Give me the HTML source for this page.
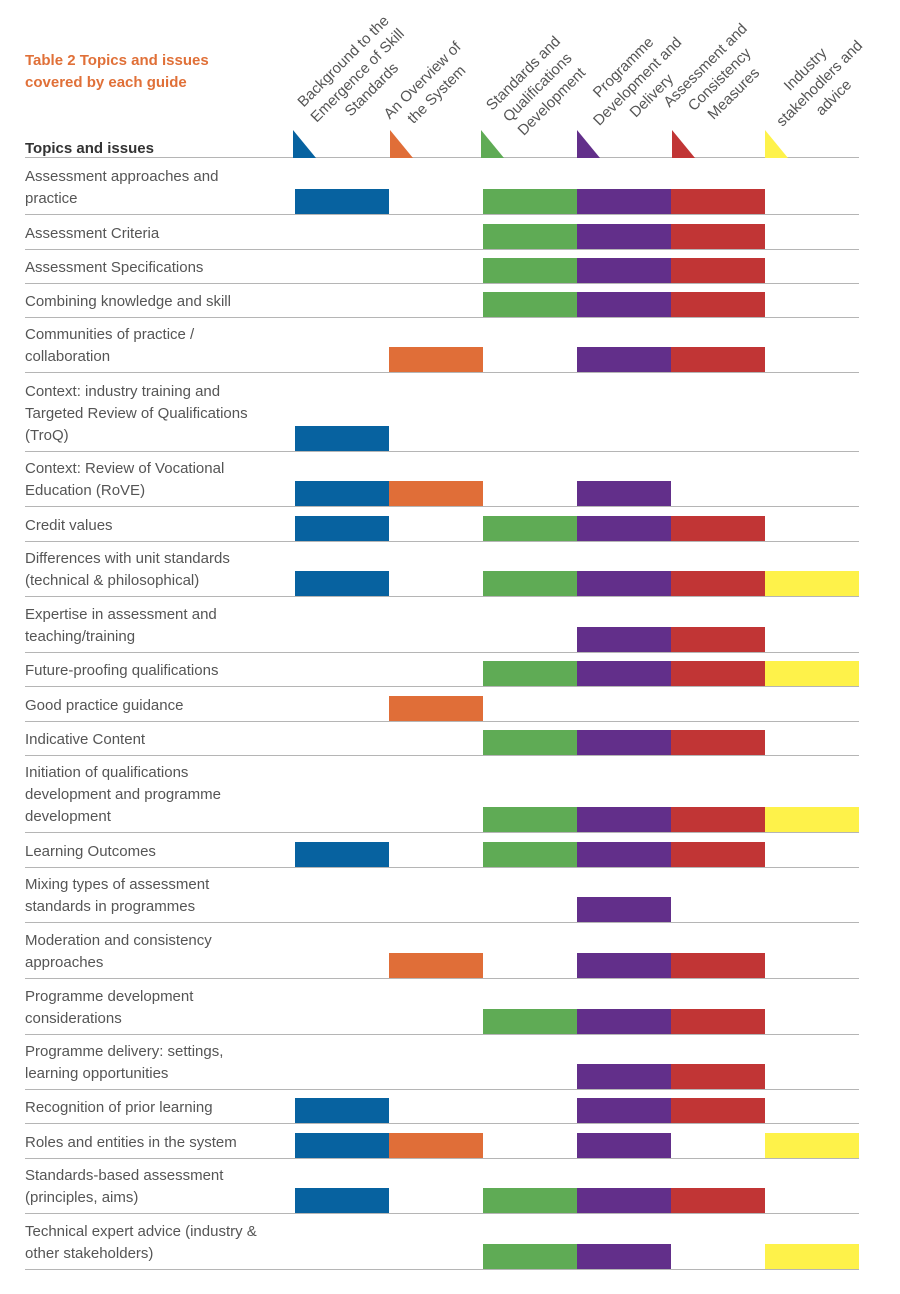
<!DOCTYPE html>
<html><head><meta charset="utf-8"><style>
body{margin:0;width:900px;height:1294px;background:#fff;position:relative;font-family:"Liberation Sans",sans-serif;overflow:hidden}
.t{position:absolute;left:25px;color:#555;font-size:15px;line-height:22px;width:270px}
.l{position:absolute;left:25px;width:834px;height:0;border-top:1.5px solid #b5b5b5}
.b{position:absolute;height:25px;width:94px}
.h{position:absolute;font-size:15px;line-height:20px;color:#555;text-align:center;white-space:nowrap;transform:translate(-50%,-50%) rotate(-45deg)}
.tri{position:absolute;top:130px;width:0;height:0;border-style:solid;border-width:28px 0 0 23px;border-color:transparent transparent transparent currentColor}
</style></head><body>
<div style="position:absolute;left:25px;top:50px;color:#e07038;font-weight:bold;font-size:15px;line-height:22px">Table 2 Topics and issues<br>covered by each guide</div>
<div style="position:absolute;left:25px;top:140px;color:#333;font-weight:bold;font-size:15px">Topics and issues</div>
<div class="l" style="top:157px"></div>
<div class="h" style="left:358px;top:76px">Background to the<br>Emergence of Skill<br>Standards</div>
<div class="h" style="left:430px;top:88px">An Overview of<br>the System</div>
<div class="h" style="left:538px;top:88px">Standards and<br>Qualifications<br>Development</div>
<div class="h" style="left:638px;top:82px">Programme<br>Development and<br>Delivery</div>
<div class="h" style="left:720px;top:80px">Assessment and<br>Consistency<br>Measures</div>
<div class="h" style="left:820px;top:84px">Industry<br>stakehodlers and<br>advice</div>
<div class="tri" style="left:293px;color:#0762a0"></div>
<div class="tri" style="left:390px;color:#e06e38"></div>
<div class="tri" style="left:481px;color:#5fab55"></div>
<div class="tri" style="left:577px;color:#622f8a"></div>
<div class="tri" style="left:672px;color:#c13535"></div>
<div class="tri" style="left:765px;color:#fef24a"></div>
<div id="rows"></div>
<script>
var C=["#0762a0","#e06e38","#5fab55","#622f8a","#c13535","#fef24a"],X=[295,389,483,577,671,765];
var R=[
[214,"Assessment approaches and<br>practice","101110"],
[249,"Assessment Criteria","001110"],
[283,"Assessment Specifications","001110"],
[317,"Combining knowledge and skill","001110"],
[372,"Communities of practice /<br>collaboration","010110"],
[451,"Context: industry training and<br>Targeted Review of Qualifications<br>(TroQ)","100000"],
[506,"Context: Review of Vocational<br>Education (RoVE)","110100"],
[541,"Credit values","101110"],
[596,"Differences with unit standards<br>(technical &amp; philosophical)","101111"],
[652,"Expertise in assessment and<br>teaching/training","000110"],
[686,"Future-proofing qualifications","001111"],
[721,"Good practice guidance","010000"],
[755,"Indicative Content","001110"],
[832,"Initiation of qualifications<br>development and programme<br>development","001111"],
[867,"Learning Outcomes","101110"],
[922,"Mixing types of assessment<br>standards in programmes","000100"],
[978,"Moderation and consistency<br>approaches","010110"],
[1034,"Programme development<br>considerations","001110"],
[1089,"Programme delivery: settings,<br>learning opportunities","000110"],
[1123,"Recognition of prior learning","100110"],
[1158,"Roles and entities in the system","110101"],
[1213,"Standards-based assessment<br>(principles, aims)","101110"],
[1269,"Technical expert advice (industry &amp;<br>other stakeholders)","001101"]];
var h="";R.forEach(function(r){var y=r[0],n=r[1].split("<br>").length;
h+='<div class="t" style="top:'+(y-4-22*n)+'px">'+r[1]+'</div><div class="l" style="top:'+y+'px"></div>';
for(var i=0;i<6;i++)if(r[2][i]=="1")h+='<div class="b" style="left:'+X[i]+'px;top:'+(y-25)+'px;background:'+C[i]+'"></div>';});
document.getElementById("rows").innerHTML=h;
</script>
</body></html>
